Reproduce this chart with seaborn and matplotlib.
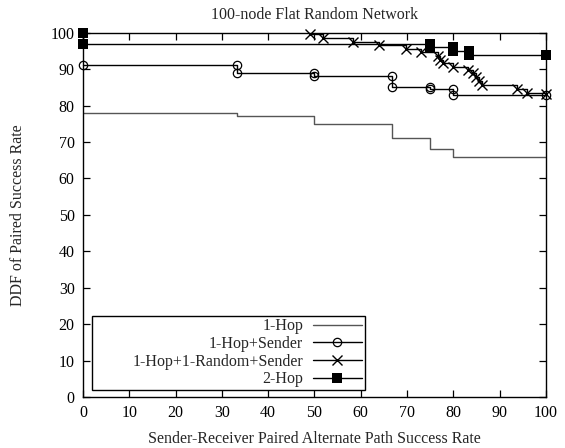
import numpy as np
import pandas as pd
import seaborn as sns
from matplotlib import pyplot as plt

# Series.
hop1_x = [0, 33.3, 50, 66.7, 75, 80, 100]
hop1_y = [78, 77, 75, 71, 68, 66, 66]

sender_x = [0, 33.3, 33.3, 50, 50, 66.7, 66.7, 75, 75, 80, 80, 100]
sender_y = [91, 91, 89, 89, 88, 88, 85, 85, 84.5, 84.5, 83, 83]

random_x = [49, 51.8, 58.3, 63.9, 69.8, 73, 76.7, 77.2, 77.8, 80, 83.2,
            84.3, 84.9, 85.5, 86.2, 93.7, 96, 100]
random_y = [99.6, 98.6, 97.4, 96.6, 95.5, 94.6, 93.5, 92.5, 91.6, 90.6, 89.7,
            88.9, 87.9, 86.8, 85.6, 84.5, 83.5, 83.1]

hop2_x = [0, 0, 75, 75, 80, 80, 83.3, 83.3, 100]
hop2_y = [100, 97, 97, 96, 96, 95, 95, 94, 94]

labels = ['1-Hop', '1-Hop+Sender', '1-Hop+1-Random+Sender', '2-Hop']

sns.set_theme(style='ticks')
plt.rcParams['font.family'] = ['Liberation Serif', 'DejaVu Serif']

FS = 11.5

fig = plt.figure(figsize=(5.65, 4.48), dpi=100)
ax = fig.add_axes([0.147, 0.114, 0.819, 0.813])

common = dict(estimator=None, sort=False, ax=ax, color='black', clip_on=False)

sns.lineplot(x=hop1_x, y=hop1_y, label=labels[0], drawstyle='steps-post',
             linewidth=1.0, color='#555555', estimator=None, sort=False, ax=ax)
sns.lineplot(x=sender_x, y=sender_y, label=labels[1], marker='o',
             markerfacecolor='none', markeredgecolor='black', markersize=6,
             markeredgewidth=0.9, linewidth=1.0, **common)
sns.lineplot(x=random_x, y=random_y, label=labels[2], marker='x',
             drawstyle='steps-post', markersize=7, markeredgewidth=1.0,
             markeredgecolor='black', linewidth=1.0, **common)
sns.lineplot(x=hop2_x, y=hop2_y, label=labels[3], marker='s',
             markersize=6.5, markeredgewidth=0, markerfacecolor='black',
             linewidth=1.0, **common)

ax.set_xlim(0, 100)
ax.set_ylim(0, 100)
ax.set_xticks(np.arange(0, 101, 10))
ax.set_yticks(np.arange(0, 101, 10))
ax.tick_params(direction='in', length=5, width=0.9, top=True, right=True,
               labelsize=FS, colors='black', pad=6)
for s in ax.spines.values():
    s.set_linewidth(1.0)
    s.set_color('black')
    s.set_visible(True)

ax.set_title('100-node Flat Random Network', fontsize=FS, pad=10)
ax.set_xlabel('Sender-Receiver Paired Alternate Path Success Rate', fontsize=FS, labelpad=7)
ax.set_ylabel('DDF of Paired Success Rate', fontsize=FS, labelpad=18)

# gnuplot-like key: wide box, labels right-aligned next to the samples.
leg = ax.legend(loc='lower left', bbox_to_anchor=(0.019, 0.02), markerfirst=False,
                fancybox=False, framealpha=1, edgecolor='black', fontsize=FS,
                labelspacing=0.1, handlelength=3.1, borderpad=0.15,
                handletextpad=0.6, borderaxespad=0)
leg.get_frame().set_linewidth(1.0)
for t in leg.get_texts():
    t.set_ha('right')
leg._legend_handle_box.get_children()[0].set_width(268)

fig.savefig('out.png', dpi=100)
